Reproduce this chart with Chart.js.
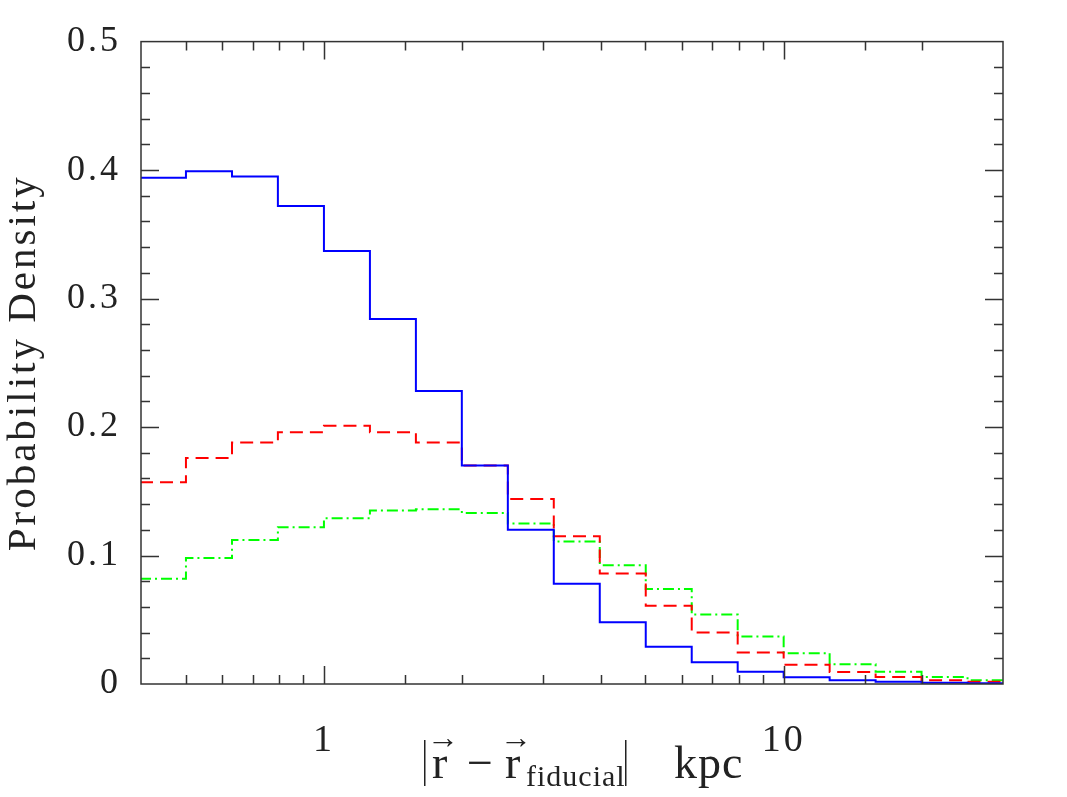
<!DOCTYPE html>
<html>
<head>
<meta charset="utf-8">
<script src="https://cdn.jsdelivr.net/npm/chart.js@4.4.0/dist/chart.umd.min.js"></script>
<style>
  html, body { margin: 0; padding: 0; background: #fff; }
  #wrap { width: 1067px; height: 797px; }
</style>
</head>
<body>
<div id="wrap"><canvas id="myChart"></canvas></div>
<script>
// bin edges in kpc (0.1 dex bins)
const binEdges = [0.398, 0.501, 0.631, 0.794, 1, 1.259, 1.585, 1.995, 2.512, 3.162,
                  3.981, 5.012, 6.310, 7.943, 10, 12.59, 15.85, 19.95, 25.12, 31.62];

// probability density per bin
const blueDensity  = [0.394, 0.399, 0.395, 0.372, 0.337, 0.284, 0.228, 0.170, 0.120, 0.078,
                      0.048, 0.029, 0.017, 0.0095, 0.0053, 0.003, 0.0018, 0.001, 0.0005];
const redDensity   = [0.157, 0.176, 0.188, 0.196, 0.201, 0.196, 0.188, 0.170, 0.144, 0.115,
                      0.086, 0.061, 0.040, 0.0246, 0.015, 0.0093, 0.0054, 0.003, 0.0018];
const greenDensity = [0.082, 0.098, 0.112, 0.122, 0.129, 0.135, 0.136, 0.133, 0.125, 0.111,
                      0.0925, 0.074, 0.054, 0.037, 0.024, 0.0153, 0.0095, 0.0054, 0.003];

const yTickLabels = ['0', '0.1', '0.2', '0.3', '0.4', '0.5'];
const xTickLabels = [1, 10];

const FONT = "'Liberation Serif', 'DejaVu Serif', serif";

// histogram -> step points (value i holds from edge i to edge i+1)
const toSteps = (vals) => {
    const pts = vals.map((v, i) => ({x: binEdges[i], y: v}));
    pts.push({x: binEdges[vals.length], y: vals[vals.length - 1]});
    return pts;
};

const isMajorY = (v) => Math.abs(v * 10 - Math.round(v * 10)) < 1e-6;

// the old plot font is spaced out a bit, fake that
// (canvas resize wipes ctx state, so set it right before drawing)
const spacing = {
    id: 'spacing',
    beforeDraw(chart) { chart.ctx.letterSpacing = '3px'; }
};

// box + inward ticks on all four sides
const frameTicks = {
    id: 'frameTicks',
    afterDatasetsDraw(chart) {
        const {ctx, chartArea: a, scales: {x, y}} = chart;
        ctx.save();
        ctx.strokeStyle = '#333';
        ctx.lineWidth = 1.5;
        ctx.beginPath();
        x.ticks.forEach(t => {
            const px = Math.round(x.getPixelForValue(t.value)) + 0.5;
            if (px <= a.left + 2 || px >= a.right - 2) return;
            const len = xTickLabels.includes(t.value) ? 18 : 9;
            ctx.moveTo(px, a.bottom); ctx.lineTo(px, a.bottom - len);
            ctx.moveTo(px, a.top); ctx.lineTo(px, a.top + len);
        });
        y.ticks.forEach(t => {
            const py = Math.round(y.getPixelForValue(t.value)) + 0.5;
            if (py <= a.top + 2 || py >= a.bottom - 2) return;
            const len = isMajorY(t.value) ? 18 : 9;
            ctx.moveTo(a.left, py); ctx.lineTo(a.left + len, py);
            ctx.moveTo(a.right, py); ctx.lineTo(a.right - len, py);
        });
        ctx.stroke();
        ctx.strokeRect(a.left, a.top, a.right - a.left, a.bottom - a.top);
        ctx.restore();
    }
};

// x axis title: |r(vec) - r(vec)_fiducial|   kpc
const xTitle = {
    id: 'xTitle',
    afterDraw(chart) {
        const ctx = chart.ctx;
        const base = 778;
        ctx.save();
        ctx.letterSpacing = '1px';
        ctx.fillStyle = '#222';
        ctx.textBaseline = 'alphabetic';
        ctx.textAlign = 'left';
        const big = '46px ' + FONT, small = '30px ' + FONT, arrowFont = '32px ' + FONT;
        const vecR = (x0) => {
            ctx.font = big;
            ctx.fillText('r', x0, base);
            const w = ctx.measureText('r').width;
            ctx.font = arrowFont;
            const aw = ctx.measureText('\u2192').width;
            ctx.fillText('\u2192', x0 + w / 2 - aw / 2 + 3, base - 30);
        };
        ctx.fillRect(424, base - 38, 1.5, 46);
        vecR(432);
        ctx.font = big;
        ctx.fillText('\u2212', 467, base);
        vecR(505);
        ctx.font = small;
        ctx.fillText('fiducial', 526, base + 8);
        ctx.fillRect(625, base - 38, 1.5, 46);
        ctx.font = big;
        ctx.fillText('kpc', 674, base);
        ctx.restore();
    }
};

const config = {
    type: 'line',
    data: {
        datasets: [
            {data: toSteps(blueDensity), borderColor: '#0000ff', borderWidth: 2, stepped: true, pointRadius: 0, fill: false},
            {data: toSteps(redDensity), borderColor: '#ff0000', borderWidth: 2, borderDash: [13, 7], stepped: true, pointRadius: 0, fill: false},
            {data: toSteps(greenDensity), borderColor: '#00ff00', borderWidth: 2, borderDash: [11, 4, 2, 4], stepped: true, pointRadius: 0, fill: false}
        ]
    },
    options: {
        responsive: true,
        maintainAspectRatio: false,
        animation: false,
        layout: {padding: {top: 39, right: 64, left: 0, bottom: 0}},
        plugins: {legend: {display: false}, tooltip: {enabled: false}},
        scales: {
            x: {
                type: 'logarithmic',
                min: 0.4,
                max: 30,
                grid: {display: false, drawTicks: false},
                border: {display: false},
                afterFit: (s) => { s.height = 113; },
                ticks: {
                    autoSkip: false,
                    maxRotation: 0,
                    padding: 34,
                    color: '#222',
                    font: {family: FONT, size: 38},
                    callback: (v) => xTickLabels.includes(v) ? String(v) : ''
                }
            },
            y: {
                min: 0,
                max: 0.5,
                grid: {display: false, drawTicks: false},
                border: {display: false},
                afterFit: (s) => { s.width = 141; },
                ticks: {
                    stepSize: 0.02,
                    autoSkip: false,
                    padding: 20,
                    color: '#222',
                    font: {family: FONT, size: 36},
                    callback: (v) => isMajorY(v) ? yTickLabels[Math.round(v * 10)] : ''
                },
                title: {
                    display: true,
                    text: 'Probability Density',
                    color: '#222',
                    padding: {top: 0, bottom: 0},
                    font: {family: FONT, size: 41}
                }
            }
        }
    },
    plugins: [spacing, frameTicks, xTitle]
};

new Chart(document.getElementById('myChart'), config);
</script>
</body>
</html>
